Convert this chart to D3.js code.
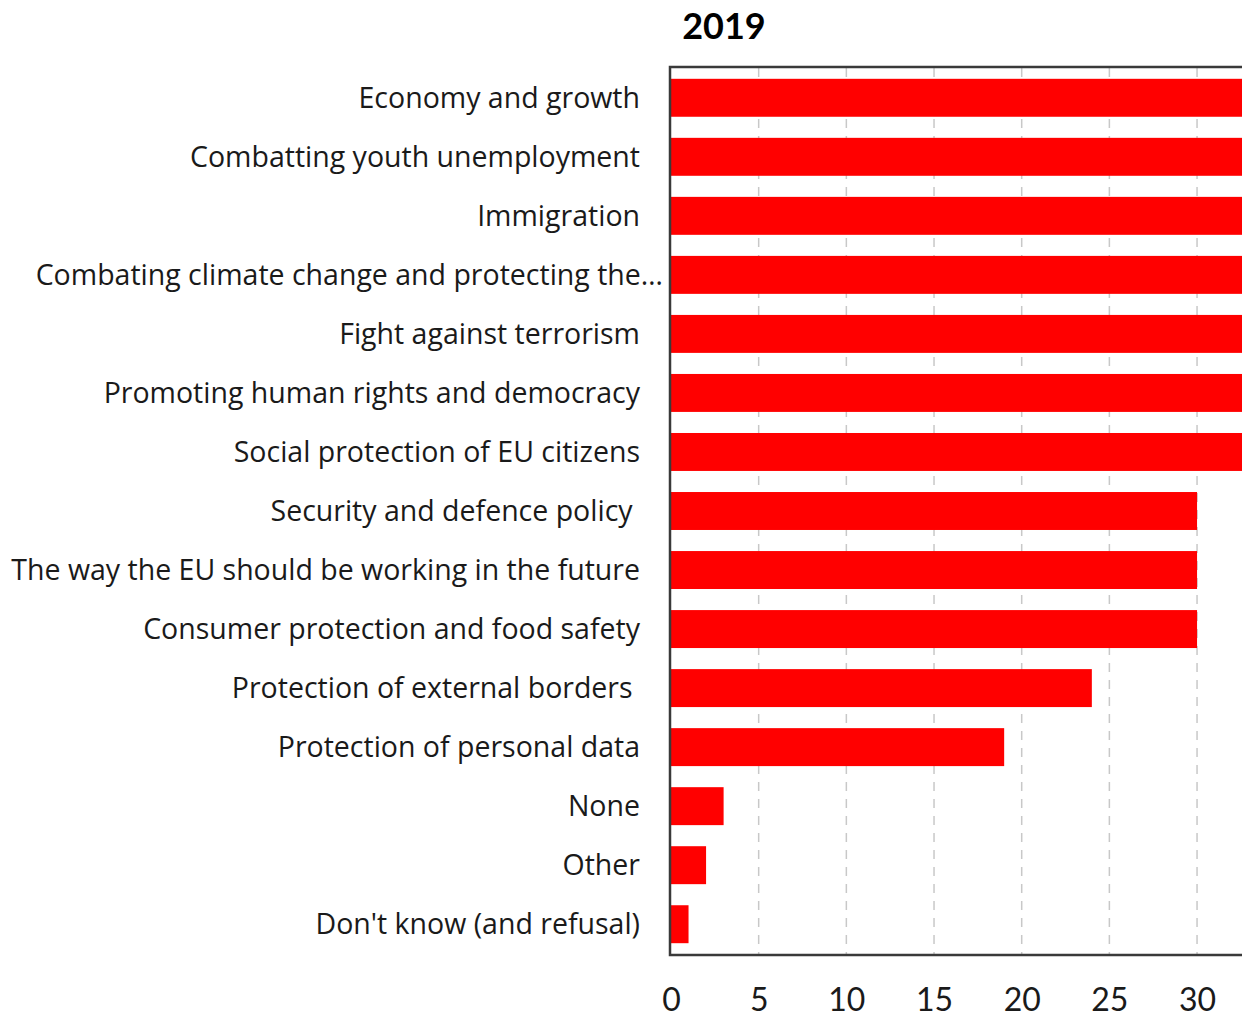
<!DOCTYPE html>
<html><head><meta charset="utf-8">
<script src="https://cdn.jsdelivr.net/npm/d3@7"></script>
<style>html,body{margin:0;padding:0;background:#fff;overflow:hidden}</style>
</head><body>
<script>
const title = "2019";
const categories = [
  "Economy and growth",
  "Combatting youth unemployment",
  "Immigration",
  "Combating climate change and protecting the…",
  "Fight against terrorism",
  "Promoting human rights and democracy",
  "Social protection of EU citizens",
  "Security and defence policy ",
  "The way the EU should be working in the future",
  "Consumer protection and food safety",
  "Protection of external borders ",
  "Protection of personal data",
  "None",
  "Other",
  "Don't know (and refusal)"
];
const values = [50, 49, 44, 43, 41, 37, 34, 30, 30, 30, 24, 19, 3, 2, 1];
const xTicks = [0, 5, 10, 15, 20, 25, 30];

const W = 1242, H = 1019;
const svg = d3.select("body").append("svg").attr("width", W).attr("height", H);
const x = d3.scaleLinear().domain([0, 40]).range([671, 671 + 40 * 17.535]);
const y = d3.scaleBand().domain(categories).range([67, 955]).paddingInner(0.357).paddingOuter(0.2);

// grid
svg.append("g").selectAll("line").data(xTicks.slice(1)).join("line")
  .attr("x1", d => x(d)).attr("x2", d => x(d)).attr("y1", 68).attr("y2", 954)
  .attr("stroke", "#c8c8c8").attr("stroke-width", 1.5).attr("stroke-dasharray", "9,8");

// bars
svg.append("g").selectAll("rect").data(values).join("rect")
  .attr("x", x(0)).attr("y", (d, i) => y(categories[i]))
  .attr("width", d => x(d) - x(0)).attr("height", y.bandwidth())
  .attr("fill", "#ff0000");

// frame
const frame = svg.append("g").attr("stroke", "#3a3a3a").attr("stroke-width", 2.5).attr("fill", "none");
frame.append("path").attr("d", `M${W + 5},67 H670 V955 H${W + 5}`);

// category labels
svg.append("g").selectAll("text").data(categories).join("text")
  .attr("x", d => d.endsWith("…") ? 663 : 640)
  .attr("y", d => y(d) + y.bandwidth() / 2)
  .attr("dy", "0.35em").attr("text-anchor", "end")
  .attr("font-family", "'Open Sans', sans-serif").attr("font-size", 28.5).attr("fill", "#1a1a1a")
  .style("white-space", "pre")
  .text(d => d);

// x axis labels
const xAxis = d3.axisBottom(x).tickValues(xTicks).tickSize(0).tickPadding(33);
const gx = svg.append("g").attr("transform", "translate(0,955)").call(xAxis);
gx.select(".domain").remove();
gx.selectAll("text").attr("font-family", "Lato, sans-serif").attr("font-size", 32).attr("fill", "#1a1a1a");

// title
svg.append("text").attr("x", 724).attr("y", 26).attr("dy", "0.35em").attr("text-anchor", "middle")
  .attr("font-family", "Lato, sans-serif").attr("font-weight", "bold").attr("font-size", 36).attr("fill", "#000")
  .text(title);
</script>
</body></html>
